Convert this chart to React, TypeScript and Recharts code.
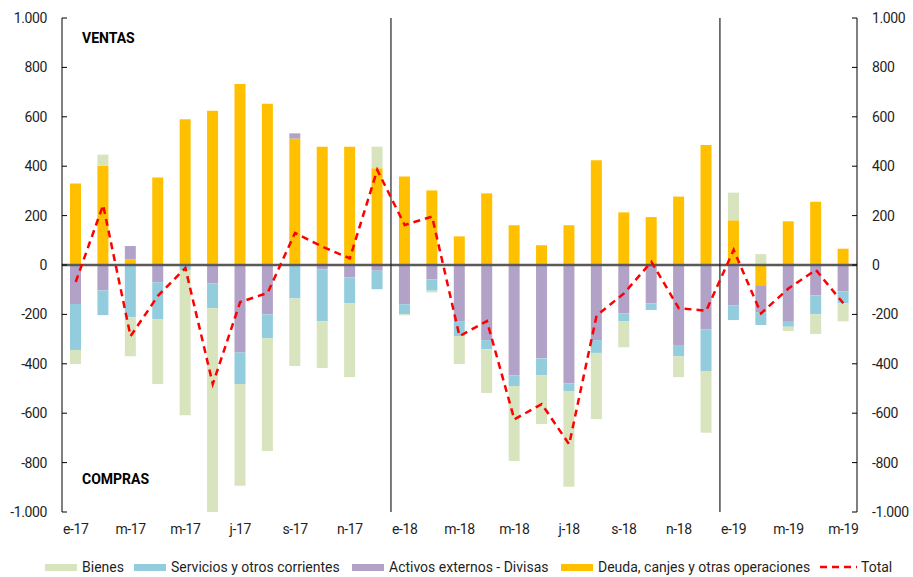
import React from 'react';
import { ComposedChart, Bar, Line, XAxis, YAxis, ReferenceLine } from 'recharts';

// months, Jan-17 .. May-19
const months = [
  '2017-01', '2017-02', '2017-03', '2017-04', '2017-05', '2017-06', '2017-07', '2017-08', '2017-09', '2017-10', '2017-11', '2017-12',
  '2018-01', '2018-02', '2018-03', '2018-04', '2018-05', '2018-06', '2018-07', '2018-08', '2018-09', '2018-10', '2018-11', '2018-12',
  '2019-01', '2019-02', '2019-03', '2019-04', '2019-05',
];
const monthLabels = [
  'e-17', 'f-17', 'm-17', 'a-17', 'm-17', 'j-17', 'j-17', 'a-17', 's-17', 'o-17', 'n-17', 'd-17',
  'e-18', 'f-18', 'm-18', 'a-18', 'm-18', 'j-18', 'j-18', 'a-18', 's-18', 'o-18', 'n-18', 'd-18',
  'e-19', 'f-19', 'm-19', 'a-19', 'm-19',
];

const deuda = [330, 402, 23, 354, 590, 625, 733, 653, 512, 479, 479, 392, 358, 302, 116, 290, 161, 80, 161, 424, 213, 194, 277, 486, 181, -82, 177, 256, 66];
const activos = [-158, -103, 54, -70, 0, -74, -354, -200, 21, -18, -50, -23, -159, -58, -227, -304, -447, -378, -479, -304, -196, -155, -327, -260, -163, -109, -230, -123, -107];
const servicios = [-186, -100, -212, -150, -20, -101, -128, -97, -135, -210, -105, -75, -41, -46, -61, -37, -43, -69, -31, -52, -31, -27, -43, -169, -60, -52, -20, -77, -48];
const bienes = [-57, 45, -157, -262, -588, -930, -412, -456, -274, -189, -299, 87, -4, -7, -113, -177, -304, -197, -388, -268, -106, 0, -84, -250, 112, 44, -17, -79, -73];
const total = [-69, 243, -288, -125, -12, -482, -150, -113, 130, 74, 27, 385, 162, 196, -288, -227, -625, -563, -726, -205, -115, 13, -175, -185, 61, -196, -95, -20, -155];

const yTicks = [-1000, -800, -600, -400, -200, 0, 200, 400, 600, 800, 1000];
// year breaks sit between dic and ene
const yearBreaks = [12, 24];

const COLORS = {
  bienes: '#d7e4bd',
  servicios: '#93cddd',
  activos: '#b3a2c7',
  deuda: '#ffc000',
  total: '#ff0000',
};

const FONT = 'Roboto, sans-serif';
const TEXT = '#1f1f1f';

const data = months.map((m, i) => ({
  month: m,
  i,
  deuda: deuda[i],
  activos: activos[i],
  servicios: servicios[i],
  bienes: bienes[i],
  total: total[i],
}));

const labelOf: Record<string, string> = {};
months.forEach((m, i) => { labelOf[m] = monthLabels[i]; });

const fmt = (v: number) =>
  (v < 0 ? '-' : '') + String(Math.abs(v)).replace(/\B(?=(\d{3})+(?!\d))/g, '.');

const tickStyle = { fontSize: 14, fill: TEXT, fontFamily: FONT, letterSpacing: -0.4 };

const legendItems = [
  { name: 'Bienes', color: COLORS.bienes, x: 45 },
  { name: 'Servicios y otros corrientes', color: COLORS.servicios, x: 134 },
  { name: 'Activos externos - Divisas', color: COLORS.activos, x: 352 },
  { name: 'Deuda, canjes y otras operaciones', color: COLORS.deuda, x: 561 },
];

export default function App() {
  return (
    <div style={{ position: 'absolute', left: 0, top: 0, width: 913, height: 577, background: '#fff', fontFamily: FONT }}>
      <ComposedChart
        width={913}
        height={577}
        data={data}
        stackOffset="sign"
        margin={{ top: 18, right: 0, bottom: 35, left: 0 }}
      >
        <XAxis
          dataKey="month"
          interval={1}
          axisLine={false}
          tickLine={false}
          tickSize={0}
          tickMargin={12}
          height={30}
          tick={tickStyle}
          tickFormatter={(v: string) => labelOf[v]}
        />
        <XAxis xAxisId="n" type="number" dataKey="i" domain={[0, 29]} hide />
        <YAxis
          domain={[-1000, 1000]}
          ticks={yTicks}
          allowDataOverflow
          width={62}
          axisLine={{ stroke: '#000' }}
          tickLine={{ stroke: '#000' }}
          tickSize={-5}
          tickMargin={20}
          tick={tickStyle}
          tickFormatter={fmt}
        />
        <YAxis
          yAxisId="r"
          orientation="right"
          domain={[-1000, 1000]}
          ticks={yTicks}
          allowDataOverflow
          width={56}
          axisLine={{ stroke: '#000' }}
          tickLine={{ stroke: '#000' }}
          tickSize={-5}
          tickMargin={20}
          tick={{ ...tickStyle, textAnchor: 'start' }}
          tickFormatter={fmt}
        />
        <Bar dataKey="deuda" stackId="a" fill={COLORS.deuda} barSize={11} isAnimationActive={false} />
        <Bar dataKey="activos" stackId="a" fill={COLORS.activos} barSize={11} isAnimationActive={false} />
        <Bar dataKey="servicios" stackId="a" fill={COLORS.servicios} barSize={11} isAnimationActive={false} />
        <Bar dataKey="bienes" stackId="a" fill={COLORS.bienes} barSize={11} isAnimationActive={false} />
        <ReferenceLine y={0} stroke="#595959" strokeWidth={2.5} />
        {yearBreaks.map((b) => (
          <ReferenceLine key={b} xAxisId="n" x={b} stroke="#222" strokeWidth={1.2} />
        ))}
        <Line
          type="linear"
          dataKey="total"
          stroke={COLORS.total}
          strokeWidth={2.5}
          strokeDasharray="7 5"
          dot={false}
          activeDot={false}
          isAnimationActive={false}
        />
      </ComposedChart>

      <div style={{ position: 'absolute', left: 82, top: 30, fontSize: 14, fontWeight: 700, color: '#000' }}>VENTAS</div>
      <div style={{ position: 'absolute', left: 82, top: 471, fontSize: 14, fontWeight: 700, color: '#000' }}>COMPRAS</div>

      {legendItems.map((it) => (
        <div key={it.name} style={{ position: 'absolute', left: it.x, top: 558, height: 18, display: 'flex', alignItems: 'center' }}>
          <span style={{ display: 'inline-block', width: 32, height: 7, background: it.color, marginRight: 5 }} />
          <span style={{ fontSize: 14, color: TEXT }}>{it.name}</span>
        </div>
      ))}
      <div style={{ position: 'absolute', left: 820, top: 558, height: 18, display: 'flex', alignItems: 'center' }}>
        <svg width={37} height={4} style={{ marginRight: 4 }}>
          <line x1={0} y1={2} x2={37} y2={2} stroke={COLORS.total} strokeWidth={2.5} strokeDasharray="7 5" />
        </svg>
        <span style={{ fontSize: 14, color: TEXT }}>Total</span>
      </div>
    </div>
  );
}
